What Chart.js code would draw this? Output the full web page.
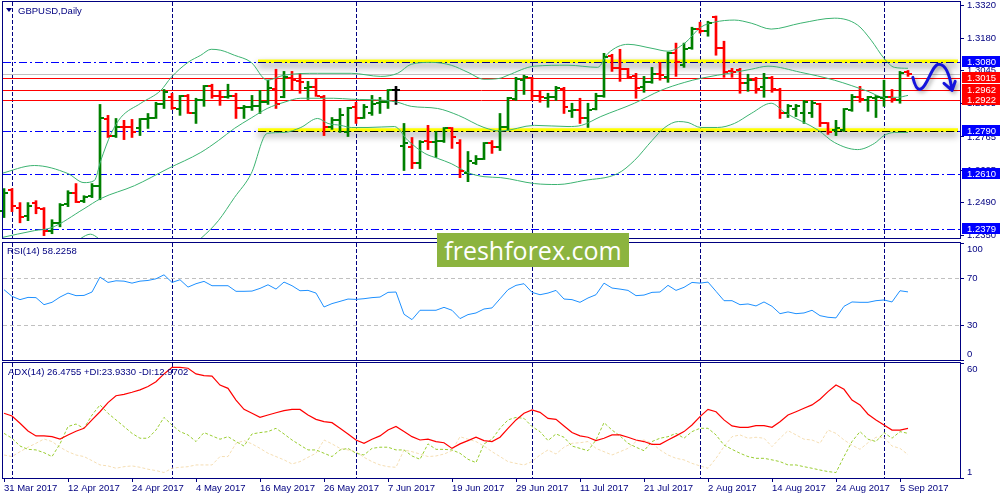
<!DOCTYPE html>
<html>
<head>
<meta charset="utf-8">
<title>GBPUSD Daily</title>
<script src="https://cdn.jsdelivr.net/npm/chart.js@4.4.1/dist/chart.umd.min.js"></script>
<style>
  body { margin: 0; background: #fff; }
  #wrap { position: relative; width: 1000px; height: 500px; overflow: hidden; background: #fff; }
  #wrap canvas { position: absolute; left: 0; }
  #logo { position: absolute; left: 437px; top: 233px; width: 192px; height: 34px; background: #8cb43f;
          color: #fff; font: 25px 'Open Sans', sans-serif; line-height: 34px; text-align: center; }
</style>
</head>
<body>
<div id="wrap">
  <canvas id="priceChart" width="1000" height="241" style="top:0"></canvas>
  <canvas id="rsiChart" width="1000" height="121" style="top:241px"></canvas>
  <canvas id="adxChart" width="1000" height="138" style="top:362px"></canvas>
  <div id="logo">freshforex.com</div>
</div>
<script>
// values, one entry per daily bar (31 Mar 2017 .. 6 Sep 2017)
const dateLabels = ['31 Mar 2017', '12 Apr 2017', '24 Apr 2017', '4 May 2017', '16 May 2017', '26 May 2017',
  '7 Jun 2017', '19 Jun 2017', '29 Jun 2017', '11 Jul 2017', '21 Jul 2017', '2 Aug 2017',
  '14 Aug 2017', '24 Aug 2017', '5 Sep 2017'];
const dateIdx = [0, 8, 16, 24, 32, 40, 48, 56, 64, 72, 80, 88, 96, 104, 112];
const monthStarts = [1, 21, 44, 66, 87, 110];

const priceTicks = [1.3320, 1.3180, 1.3045, 1.2905, 1.2765, 1.2625, 1.2490, 1.2350];
const blueLevels = [1.3080, 1.2790, 1.2610, 1.2379];
const redLevels = [1.3015, 1.2962, 1.2922];
const yellowLevels = [1.3080, 1.2790];

const opens = [1.2455,1.2544,1.2468,1.2434,1.2489,1.2464,1.2371,1.2404,1.2485,1.2531,
  1.2497,1.2518,1.2560,1.2839,1.2771,1.2809,1.2809,1.2801,1.2839,1.2847,
  1.2902,1.2932,1.2881,1.2936,1.2864,1.2919,1.2978,1.2936,1.2932,1.2936,
  1.2885,1.2890,1.2894,1.2911,1.2965,1.2932,1.3012,1.2999,1.2970,1.2974,
  1.2932,1.2805,1.2835,1.2788,1.2890,1.2847,1.2864,1.2907,1.2911,1.2963,
  1.2725,1.2721,1.2657,1.2750,1.2746,1.2750,1.2801,1.2738,1.2615,1.2657,
  1.2674,1.2738,1.2721,1.2809,1.2923,1.3004,1.3012,1.2936,1.2928,1.2932,
  1.2965,1.2873,1.2877,1.2843,1.2881,1.2936,1.3105,1.3054,1.3050,1.3020,
  1.2974,1.2995,1.3029,1.3016,1.3117,1.3066,1.3138,1.3219,1.3210,1.3269,
  1.3139,1.3041,1.3045,1.2991,1.3004,1.2974,1.3012,1.2961,1.2864,1.2881,
  1.2864,1.2864,1.2902,1.2822,1.2793,1.2793,1.2877,1.2932,1.2919,1.2928,
  1.2928,1.2932,1.2919,1.3037];
const highs = [1.2548,1.2548,1.2489,1.2489,1.2497,1.2468,1.2417,1.2485,1.2539,1.2569,
  1.2518,1.2569,1.2902,1.2856,1.2843,1.2835,1.2839,1.2843,1.2864,1.2911,
  1.2965,1.2949,1.2940,1.2944,1.2928,1.2982,1.2987,1.2961,1.2987,1.2949,
  1.2898,1.2940,1.2961,1.3004,1.3050,1.3041,1.3041,1.3033,1.2999,1.3012,
  1.2940,1.2847,1.2885,1.2890,1.2911,1.2902,1.2940,1.2932,1.2965,1.2978,
  1.2822,1.2763,1.2750,1.2814,1.2788,1.2805,1.2805,1.2754,1.2704,1.2687,
  1.2742,1.2750,1.2864,1.2932,1.3016,1.3025,1.3016,1.2961,1.2949,1.2978,
  1.2974,1.2907,1.2928,1.2907,1.2949,1.3117,1.3113,1.3134,1.3054,1.3033,
  1.3020,1.3058,1.3079,1.3122,1.3160,1.3160,1.3227,1.3248,1.3252,1.3274,
  1.3168,1.3054,1.3054,1.3029,1.3016,1.3033,1.3020,1.2970,1.2902,1.2902,
  1.2919,1.2919,1.2907,1.2826,1.2835,1.2885,1.2944,1.2978,1.2936,1.2940,
  1.3004,1.2965,1.3041,1.3045];
const lows = [1.2426,1.2451,1.2404,1.2413,1.2442,1.2350,1.2358,1.2387,1.2472,1.2489,
  1.2489,1.2510,1.2501,1.2763,1.2763,1.2754,1.2763,1.2771,1.2801,1.2843,
  1.2885,1.2881,1.2856,1.2864,1.2822,1.2894,1.2928,1.2898,1.2928,1.2843,
  1.2843,1.2877,1.2864,1.2902,1.2885,1.2930,1.2961,1.2949,1.2923,1.2936,
  1.2771,1.2797,1.2784,1.2767,1.2822,1.2843,1.2856,1.2864,1.2885,1.2902,
  1.2624,1.2632,1.2632,1.2712,1.2679,1.2742,1.2717,1.2594,1.2577,1.2649,
  1.2670,1.2696,1.2708,1.2793,1.2919,1.2944,1.2919,1.2911,1.2890,1.2919,
  1.2864,1.2847,1.2822,1.2805,1.2879,1.2932,1.3041,1.2999,1.3012,1.2928,
  1.2953,1.2991,1.3004,1.2995,1.3020,1.3058,1.3134,1.3202,1.3189,1.3109,
  1.3016,1.3016,1.2949,1.2957,1.2949,1.2932,1.2953,1.2843,1.2847,1.2851,
  1.2822,1.2847,1.2809,1.2776,1.2771,1.2788,1.2873,1.2911,1.2873,1.2847,
  1.2894,1.2911,1.2907,1.3020];
const closes = [1.2530,1.2476,1.2430,1.2476,1.2468,1.2371,1.2404,1.2480,1.2531,1.2493,
  1.2514,1.2560,1.2843,1.2771,1.2809,1.2805,1.2788,1.2839,1.2847,1.2902,
  1.2953,1.2885,1.2936,1.2866,1.2919,1.2978,1.2936,1.2932,1.2936,1.2885,
  1.2890,1.2894,1.2911,1.2970,1.2902,1.3016,1.3004,1.2995,1.2974,1.2938,
  1.2805,1.2835,1.2856,1.2885,1.2843,1.2890,1.2902,1.2911,1.2963,1.2963,
  1.2738,1.2657,1.2746,1.2746,1.2750,1.2801,1.2763,1.2624,1.2662,1.2674,
  1.2738,1.2721,1.2809,1.2928,1.3008,1.3016,1.2936,1.2932,1.2932,1.2970,
  1.2890,1.2877,1.2843,1.2877,1.2936,1.3101,1.3054,1.3050,1.3016,1.2970,
  1.2995,1.3029,1.3025,1.3117,1.3079,1.3134,1.3219,1.3210,1.3244,1.3139,
  1.3037,1.3037,1.2991,1.3004,1.2965,1.3012,1.2965,1.2864,1.2894,1.2894,
  1.2911,1.2907,1.2822,1.2784,1.2801,1.2881,1.2932,1.2923,1.2932,1.2932,
  1.2932,1.2923,1.3033,1.3029];

// Bollinger bands, [bar, price] read at points along each curve
const bbUpper = [[-0.4,1.2611],[3.8,1.2645],[8,1.2611],[10,1.2573],[11.3,1.2582],[12.1,1.2666],[13.4,1.2780],
  [14.6,1.2847],[17.1,1.2907],[19.6,1.2961],[20.9,1.3016],[23,1.3079],[24.6,1.3109],[25.9,1.3134],[27.1,1.3130],
  [28.8,1.3109],[30.9,1.3079],[32.9,1.3004],[35,1.3025],[39.2,1.3033],[43.4,1.3033],[47.1,1.3020],[49.2,1.3033],
  [50.9,1.3071],[53.4,1.3079],[55.9,1.3067],[58,1.3037],[60,1.3008],[62,1.3012],[63,1.3025],[66.3,1.3063],
  [70.5,1.3067],[74.2,1.3058],[75.5,1.3117],[78,1.3155],[81,1.3138],[83,1.3126],[85.1,1.3160],[87.1,1.3227],
  [88.8,1.3248],[91.3,1.3257],[93.4,1.3244],[95.9,1.3219],[99.6,1.3244],[103.8,1.3265],[106.7,1.3236],
  [108.4,1.3172],[110,1.3096],[111.3,1.3058],[113,1.3054]];
const bbMiddle = [[-0.4,1.2341],[3.8,1.2371],[5.9,1.2383],[10,1.2463],[12.1,1.2506],[16.3,1.2560],[20.5,1.2632],
  [24.6,1.2700],[26.8,1.2750],[28.8,1.2801],[30.9,1.2845],[32.9,1.2885],[35,1.2911],[37.1,1.2928],[41.2,1.2928],
  [43.4,1.2924],[47.6,1.2919],[49.2,1.2911],[50.9,1.2894],[54.2,1.2885],[56.8,1.2856],[60,1.2805],[62.1,1.2790],
  [66.3,1.2814],[70.5,1.2809],[72.2,1.2814],[74.6,1.2851],[78.8,1.2907],[82.1,1.2961],[85.1,1.2995],[87.1,1.3012],
  [91.3,1.3037],[93.4,1.3050],[95.5,1.3063],[99.6,1.3037],[103.8,1.3004],[108,1.2957],[110,1.2932],[111.7,1.2932],
  [113,1.2940]];
const bbLower = [[7,1.2290],[8.5,1.2305],[9.6,1.2338],[10.8,1.2356],[11.8,1.2338],[13,1.2295],[22,1.2270],
  [24.6,1.2338],[26.8,1.2413],[28.8,1.2510],[30.9,1.2611],[32.9,1.2780],[35,1.2784],[37.1,1.2805],[39.2,1.2843],
  [40.5,1.2822],[42.1,1.2814],[43.4,1.2805],[45.5,1.2805],[48.8,1.2809],[50.5,1.2750],[52.6,1.2696],[54.2,1.2675],
  [55.9,1.2653],[58,1.2615],[60,1.2598],[62.1,1.2594],[66.3,1.2569],[69.2,1.2565],[72.5,1.2582],[76.7,1.2611],
  [78.8,1.2666],[81,1.2750],[82.6,1.2805],[84.3,1.2830],[85.5,1.2826],[87.1,1.2805],[89.2,1.2805],[91.3,1.2822],
  [93.4,1.2864],[95.9,1.2907],[97.6,1.2868],[101.8,1.2793],[103.8,1.2742],[106.7,1.2712],[108.8,1.2738],
  [110,1.2771],[111.3,1.2784],[113,1.2784]];

const rsi = [60.1,54.4,51.6,53.5,53.3,47.3,49.3,53.8,57.2,55.0,
  55.2,58.1,70.9,66.3,67.7,67.4,65.7,67.4,68.0,69.4,
  72.8,66.3,68.6,62.3,65.2,67.2,63.5,63.5,63.5,58.7,
  58.7,58.9,61.2,64.3,60.6,66.6,63.5,59.2,59.5,57.2,
  45.3,48.2,50.1,52.1,51.8,52.4,53.3,53.8,57.8,58.1,
  39.1,34.5,42.5,42.5,42.5,45.0,42.5,35.4,38.8,40.2,
  43.6,44.5,52.3,60.1,63.8,65.2,57.8,55.8,57.2,59.5,
  52.1,51.6,49.3,53.0,55.8,65.7,61.5,60.6,59.5,55.0,
  55.5,57.8,58.1,63.8,59.5,62.1,66.3,65.7,66.6,58.7,
  50.7,50.7,47.3,47.9,46.2,49.6,45.9,39.6,41.1,39.6,
  40.2,42.5,37.9,36.5,36.0,45.9,49.6,49.3,49.3,50.7,
  51.3,49.6,59.2,58.2];
const rsiTicks = [100, 70, 30, 0];
const rsiLevels = [70, 30];

const adx = [34.2,32.8,29.1,25.1,22.6,22.6,22.2,21.0,23.1,25.0,
  26.5,30.8,35.0,39.7,43.2,43.9,45.0,46.2,47.9,50.4,
  54.4,57.8,57.8,57.3,54.4,53.5,53.3,48.7,47.0,41.0,
  36.2,34.2,32.1,33.3,34.5,35.6,36.2,36.2,33.3,31.1,
  29.9,29.4,26.5,23.6,20.5,18.8,20.9,22.6,25.6,27.4,
  24.8,22.2,20.5,20.9,19.7,19.1,16.2,18.5,20.2,21.9,
  20.2,19.7,21.9,26.5,30.8,34.2,35.9,34.7,31.6,31.1,
  27.7,24.3,22.6,21.9,20.2,21.4,23.1,23.1,21.9,20.5,
  19.7,18.3,18.3,20.5,22.6,24.8,28.2,32.5,36.2,35.0,
  30.8,27.7,27.0,27.0,27.9,27.9,27.0,29.9,33.3,35.0,
  36.8,38.5,41.4,45.3,48.7,46.5,41.0,38.5,33.7,30.8,
  28.2,25.6,25.6,26.5];
const plusDi = [23.9,21.4,17.4,15.7,15.4,14.0,12.0,18.5,27.4,28.7,
  26.5,33.3,38.5,34.2,30.8,27.4,23.9,21.4,21.4,25.6,
  32.1,28.2,24.8,23.1,19.7,24.3,22.6,20.9,22.2,19.7,
  17.4,23.6,24.3,24.8,26.5,23.6,20.5,17.9,15.4,15.4,
  13.7,12.0,15.4,16.2,13.7,12.8,16.2,16.8,16.8,15.4,
  15.4,12.3,10.6,18.5,15.7,15.7,15.4,13.7,10.6,8.9,
  18.5,20.9,26.5,30.8,32.1,31.6,27.4,24.8,20.2,23.6,
  21.9,17.4,16.2,15.0,20.5,29.4,25.6,22.6,18.8,16.8,
  15.0,19.7,21.4,22.2,23.9,21.4,24.8,26.5,26.5,23.1,
  17.9,15.7,13.7,12.0,11.1,11.1,10.3,9.4,7.7,7.7,
  6.8,6.0,5.1,4.3,3.8,12.0,19.7,24.8,20.9,19.7,
  24.3,21.4,24.8,23.9];
const minusDi = [12.8,12.0,14.5,16.8,18.8,21.0,19.7,16.8,14.5,12.8,
  12.0,9.9,7.7,7.2,6.0,6.8,7.2,6.5,5.5,4.8,
  3.8,6.0,6.5,6.8,7.7,7.7,7.7,12.0,12.0,18.8,
  20.2,18.5,16.2,13.7,12.0,10.3,8.2,9.4,11.6,13.7,
  20.5,18.5,16.2,15.4,14.5,11.6,9.4,7.7,6.8,6.5,
  15.4,14.5,13.3,12.0,12.3,13.3,15.0,22.2,20.9,19.7,
  17.4,14.5,12.0,9.4,8.5,7.7,9.4,12.8,15.4,13.3,
  16.8,18.8,19.1,19.7,16.2,14.5,12.8,14.5,16.2,19.7,
  20.5,18.8,15.4,12.8,11.1,10.3,8.5,7.2,6.0,11.1,
  17.1,22.2,23.1,21.4,21.9,21.4,17.1,21.4,25.3,23.1,
  20.9,20.5,18.8,25.6,23.9,20.5,17.9,15.7,19.1,21.9,
  21.9,17.4,16.2,13.0];
const adxTicks = [60, 1];

// ---- drawing ----
const NAVY = '#000080';
const FAMILY = "'Liberation Sans', Arial, sans-serif";
const FS = 9.5;
const X_MIN = -0.125, X_MAX = 119.5;
Chart.defaults.font.family = FAMILY;
Chart.defaults.font.size = FS;

const asPoints = arr => arr.map((v, i) => ({x: i, y: v}));
const asPairs = arr => arr.map(p => ({x: p[0], y: p[1]}));
const crisp = v => Math.round(v) + 0.5;
function barColor(i) {
  if (closes[i] > opens[i]) return '#008000';
  if (closes[i] < opens[i]) return '#ff0000';
  return '#000000';
}

function hLine(ctx, x0, x1, y, color, width, dash) {
  ctx.save();
  ctx.strokeStyle = color;
  ctx.lineWidth = width;
  ctx.setLineDash(dash || []);
  ctx.beginPath();
  ctx.moveTo(x0, y);
  ctx.lineTo(x1, y);
  ctx.stroke();
  ctx.restore();
}

function separators(chart) {
  const {ctx, chartArea: a, scales: {x}} = chart;
  ctx.save();
  ctx.strokeStyle = NAVY;
  ctx.lineWidth = 1;
  ctx.setLineDash([4, 2]);
  monthStarts.forEach(i => {
    const px = crisp(x.getPixelForValue(i));
    ctx.beginPath();
    ctx.moveTo(px, a.top);
    ctx.lineTo(px, a.bottom);
    ctx.stroke();
  });
  ctx.restore();
}

function frame(chart) {
  const {ctx, chartArea: a} = chart;
  ctx.save();
  ctx.strokeStyle = NAVY;
  ctx.lineWidth = 1;
  ctx.strokeRect(Math.round(a.left) - 0.5, Math.round(a.top) - 0.5,
    Math.round(a.right - a.left) + 1, Math.round(a.bottom - a.top) + 1);
  ctx.restore();
}

function caption(chart, text, x, y) {
  const ctx = chart.ctx;
  ctx.save();
  ctx.font = FS + 'px ' + FAMILY;
  ctx.fillStyle = NAVY;
  ctx.textBaseline = 'middle';
  ctx.fillText(text, x, y);
  ctx.restore();
}

function sideLabels(chart, values) {
  const {ctx, chartArea: a, scales: {y}} = chart;
  ctx.save();
  ctx.font = FS + 'px ' + FAMILY;
  ctx.fillStyle = NAVY;
  ctx.strokeStyle = NAVY;
  ctx.textBaseline = 'middle';
  values.forEach(v => {
    const py = y.getPixelForValue(v);
    ctx.beginPath();
    ctx.moveTo(a.right, crisp(py));
    ctx.lineTo(a.right + 4, crisp(py));
    ctx.stroke();
    const ly = Math.min(Math.max(py, a.top + 6), a.bottom - 6);
    ctx.fillText(String(v), a.right + 7, ly);
  });
  ctx.restore();
}

const fitRight = s => { s.width = 40; s.paddingTop = 0; s.paddingBottom = 0; };
const hiddenX = () => ({type: 'linear', min: X_MIN, max: X_MAX, offset: false, display: false, grid: {offset: false}});
const sideY = (min, max) => ({type: 'linear', position: 'right', min, max, afterFit: fitRight,
  ticks: {display: false}, grid: {display: false}, border: {display: false}});

function baseOptions(padding, x, y) {
  return {
    responsive: false, animation: false, events: [],
    layout: {padding},
    plugins: {legend: {display: false}, tooltip: {enabled: false}},
    scales: {x, y}
  };
}

const pricePlugin = {
  id: 'priceExtras',
  beforeDatasetsDraw(chart) {
    const {ctx, chartArea: a, scales: {x, y}} = chart;
    ctx.save();
    ctx.beginPath();
    ctx.rect(a.left, a.top, a.right - a.left, a.bottom - a.top);
    ctx.clip();
    separators(chart);
    hLine(ctx, a.left, a.right, crisp(y.getPixelForValue(closes[closes.length - 1])), '#c0c0c0', 1);
    redLevels.forEach(v => hLine(ctx, a.left, a.right, crisp(y.getPixelForValue(v)), '#ff0000', 1));
    blueLevels.forEach(v => hLine(ctx, a.left, a.right, crisp(y.getPixelForValue(v)), '#0000ff', 1, [8, 3, 2, 3]));
    const x0 = x.getPixelForValue(31.75), x1 = x.getPixelForValue(119.25);
    yellowLevels.forEach((v, k) => {
      ctx.save();
      ctx.shadowColor = 'rgba(0,0,0,0.45)';
      ctx.shadowBlur = 7;
      ctx.shadowOffsetY = 4;
      hLine(ctx, x0, x1, y.getPixelForValue(v) - 1, '#ffff00', 3.5);
      ctx.restore();
      hLine(ctx, x0, x1, crisp(y.getPixelForValue(v)), k === 0 ? '#000080' : '#000000', 1, [8, 3, 2, 3]);
    });
    ctx.restore();
  },
  afterDatasetsDraw(chart) {
    const {ctx, scales: {x, y}} = chart;
    ctx.save();
    opens.forEach((o, i) => {
      const px = Math.round(x.getPixelForValue(i));
      ctx.fillStyle = barColor(i);
      ctx.fillRect(px - 4, Math.round(y.getPixelForValue(o)) - 1, 3, 2);
      ctx.fillRect(px + 1, Math.round(y.getPixelForValue(closes[i])) - 1, 3, 2);
    });
    ctx.restore();

    // hand-drawn forecast arrow
    const P = (i, v) => [x.getPixelForValue(i), y.getPixelForValue(v)];
    ctx.save();
    ctx.strokeStyle = '#1414dc';
    ctx.lineWidth = 3;
    ctx.lineCap = 'round';
    ctx.lineJoin = 'round';
    ctx.shadowColor = 'rgba(0,0,0,0.35)';
    ctx.shadowBlur = 4;
    ctx.shadowOffsetX = 2;
    ctx.shadowOffsetY = 2;
    ctx.beginPath();
    ctx.moveTo(...P(113.6, 1.3016));
    ctx.quadraticCurveTo(...P(114.0, 1.2962), ...P(114.5, 1.2966));
    ctx.bezierCurveTo(...P(115.4, 1.2970), ...P(116.0, 1.3075), ...P(116.9, 1.3071));
    ctx.bezierCurveTo(...P(117.9, 1.3068), ...P(118.3, 1.3010), ...P(118.5, 1.2961));
    ctx.moveTo(...P(117.5, 1.2991));
    ctx.lineTo(...P(118.5, 1.2961));
    ctx.lineTo(...P(118.9, 1.2999));
    ctx.stroke();
    ctx.restore();
  },
  afterDraw(chart) {
    const {ctx, chartArea: a, scales: {y}} = chart;
    frame(chart);
    ctx.save();
    ctx.font = FS + 'px ' + FAMILY;
    ctx.textBaseline = 'middle';
    const box = (v, bg) => {
      const py = Math.round(y.getPixelForValue(v));
      ctx.fillStyle = bg;
      ctx.fillRect(a.right + 2, py - 6, 38, 11);
      ctx.fillStyle = '#ffffff';
      ctx.fillText(v.toFixed(4), a.right + 7, py);
    };
    blueLevels.forEach(v => box(v, '#0000ff'));
    redLevels.forEach(v => box(v, '#ff0000'));
    ctx.fillStyle = NAVY;
    ctx.beginPath();
    ctx.moveTo(6, 8);
    ctx.lineTo(12, 8);
    ctx.lineTo(9, 12);
    ctx.closePath();
    ctx.fill();
    ctx.restore();
    caption(chart, 'GBPUSD,Daily', 18, 11);
  }
};

const BB = '#3cb371';
const bandLine = pts => ({type: 'line', data: asPairs(pts), borderColor: BB, borderWidth: 1,
  pointRadius: 0, cubicInterpolationMode: 'monotone'});

new Chart(document.getElementById('priceChart'), {
  type: 'bar',
  data: {
    datasets: [
      bandLine(bbUpper),
      bandLine(bbMiddle),
      bandLine(bbLower),
      {
        type: 'bar',
        data: lows.map((l, i) => ({x: i, y: [l, highs[i]]})),
        backgroundColor: opens.map((o, i) => barColor(i)),
        barThickness: 2,
        borderWidth: 0
      }
    ]
  },
  options: baseOptions({top: 2, bottom: 3, left: 3, right: 0}, hiddenX(), {
    type: 'linear', position: 'right', min: 1.2340, max: 1.3333,
    afterBuildTicks: s => { s.ticks = priceTicks.map(v => ({value: v})); },
    afterFit: fitRight,
    ticks: {color: NAVY, padding: 3, autoSkip: false, callback: v => Number(v).toFixed(4)},
    grid: {drawOnChartArea: false, drawTicks: true, tickLength: 4, color: NAVY},
    border: {display: false}
  }),
  plugins: [pricePlugin]
});

new Chart(document.getElementById('rsiChart'), {
  type: 'line',
  data: {datasets: [{data: asPoints(rsi), borderColor: '#1e90ff', borderWidth: 1, pointRadius: 0}]},
  options: baseOptions({top: 2, bottom: 2, left: 3, right: 0}, hiddenX(), sideY(0, 100)),
  plugins: [{
    id: 'rsiExtras',
    beforeDatasetsDraw(chart) {
      const {ctx, chartArea: a, scales: {y}} = chart;
      rsiLevels.forEach(v => hLine(ctx, a.left, a.right, crisp(y.getPixelForValue(v)), '#c0c0c0', 1, [4, 3]));
      separators(chart);
    },
    afterDraw(chart) {
      frame(chart);
      sideLabels(chart, rsiTicks);
      caption(chart, 'RSI(14) 58.2258', 7, 10);
    }
  }]
});

new Chart(document.getElementById('adxChart'), {
  type: 'line',
  data: {
    datasets: [
      {data: asPoints(adx), borderColor: '#ff0000', borderWidth: 1.2, pointRadius: 0},
      {data: asPoints(plusDi), borderColor: '#9acd32', borderWidth: 1, borderDash: [3, 2], pointRadius: 0},
      {data: asPoints(minusDi), borderColor: '#f5deb3', borderWidth: 1, borderDash: [3, 2], pointRadius: 0}
    ]
  },
  options: baseOptions({top: 1, bottom: 0, left: 3, right: 0}, {
    type: 'linear', min: X_MIN, max: X_MAX, offset: false,
    afterBuildTicks: s => { s.ticks = dateIdx.map(v => ({value: v})); },
    afterFit: s => { s.height = 22; s.paddingLeft = 0; s.paddingRight = 0; },
    ticks: {color: NAVY, autoSkip: false, maxRotation: 0, align: 'start', padding: 1,
      callback: (v, k) => dateLabels[k]},
    grid: {offset: false, drawOnChartArea: false, drawTicks: true, tickLength: 4, color: NAVY},
    border: {display: false}
  }, sideY(1, 60)),
  plugins: [{
    id: 'adxExtras',
    beforeDatasetsDraw(chart) { separators(chart); },
    afterDraw(chart) {
      frame(chart);
      sideLabels(chart, adxTicks);
      caption(chart, 'ADX(14) 26.4755 +DI:23.9330 -DI:12.9702', 8, 10);
    }
  }]
});
</script>
</body>
</html>
